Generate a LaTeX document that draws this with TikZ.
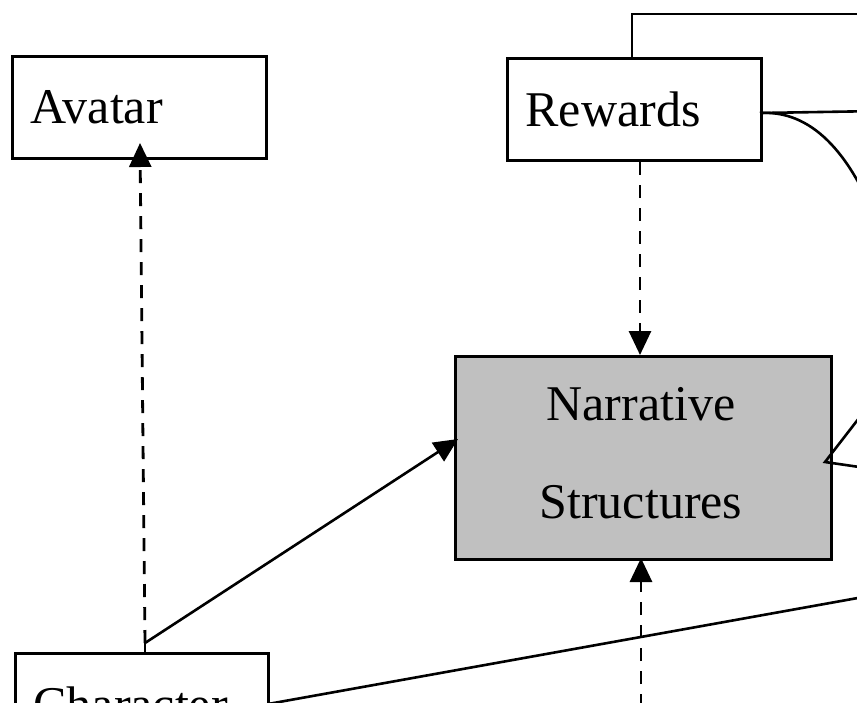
\documentclass[tikz,border=0pt]{standalone}
\usepackage{fontspec}
\setmainfont{Liberation Serif}
\usetikzlibrary{arrows.meta}
\definecolor{boxgray}{HTML}{C0C0C0}
\begin{document}
\begin{tikzpicture}[x=1pt,y=-1pt,
  box/.style={draw, line width=3pt, anchor=north west, inner xsep=18pt, inner ysep=0pt,
    align=left, font=\fontsize{50}{60}\selectfont},
  lbl/.style={anchor=base, inner sep=0pt, font=\fontsize{50}{60}\selectfont},
  conn/.style={line width=2.6pt},
  dashconn/.style={line width=2.8pt, dash pattern=on 13pt off 10pt},
  tip/.style={-{Triangle[length=24pt,width=22pt]}}]
\useasboundingbox (0,0) rectangle (857,702);
\clip (0,0) rectangle (857,702);
\fill[white] (0,0) rectangle (857,702);
% boxes
\node[box, text width=218pt, minimum height=102pt] (avatar) at (11,55) {Avatar};
\node[box, text width=218pt, minimum height=102pt] (rewards) at (506,57) {Rewards};
\node[box, fill=boxgray, minimum width=376pt, minimum height=203pt] (narr) at (454,355) {};
\node[lbl] (narr1) at (641,420) {Narrative};
\node[lbl] (narr2) at (641,518) {Structures};
\node[box, text width=217pt, minimum height=102pt] (character) at (14,652) {Character};
% coordinates
\coordinate (cj) at (145,643);
\coordinate (avtip) at (140,143);
\coordinate (nltip) at (458,439);
\coordinate (rwtop) at (632,57);
\coordinate (topright) at (880,14);
\coordinate (rwright) at (760,113);
\coordinate (rwout) at (880,111);
\coordinate (curveout) at (880,230);
\coordinate (nrtip) at (825,462);
\coordinate (nrin1) at (880,391);
\coordinate (nrin2) at (880,470);
\coordinate (chout) at (268,704);
\coordinate (longout) at (880,594);
\coordinate (botin) at (641,730);
\coordinate (nbtip) at (641,558);
\coordinate (nttip) at (640,355);
\coordinate (rwbot) at (640,162);
% connectors
\draw[dashconn] (character.north -| cj) -- (cj);
\draw[dashconn, tip] (cj) -- (avtip);
\draw[conn, tip] (cj) -- (nltip);
\draw[dashconn, tip] (rwbot) -- (nttip);
\draw[dashconn, tip] (botin) -- (nbtip);
\draw[conn] (rwtop) -- (632,14) -- (topright);
\draw[conn] (rwright) -- (rwout);
\draw[conn] (rwright) .. controls (810,110) and (850,150) .. (curveout);
\draw[conn] (nrin1) -- (nrtip) -- (nrin2);
\draw[conn] (chout) -- (longout);
\end{tikzpicture}
\end{document}
